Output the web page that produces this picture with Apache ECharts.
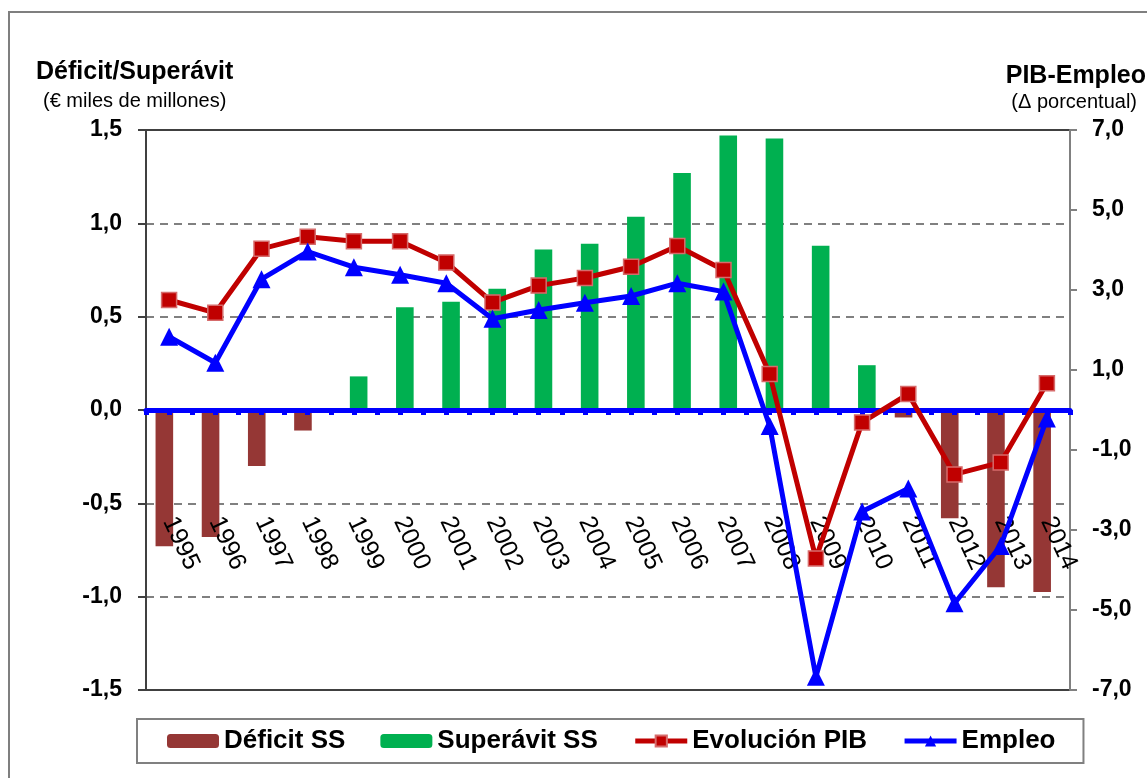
<!DOCTYPE html>
<html>
<head>
<meta charset="utf-8">
<title>Déficit/Superávit SS - PIB - Empleo</title>
<script src="https://cdn.jsdelivr.net/npm/echarts@6/dist/echarts.min.js"></script>
<style>
  html, body { margin: 0; padding: 0; background: #fff; }
  #chart { width: 1147px; height: 778px; }
</style>
</head>
<body>
<div id="chart"></div>
<script>
// datos
var years = ['1995','1996','1997','1998','1999','2000','2001','2002','2003','2004',
             '2005','2006','2007','2008','2009','2010','2011','2012','2013','2014'];
// € miles de millones
var deficitSS = [-0.73,-0.68,-0.30,-0.11,'-','-','-','-','-','-',
                 '-','-','-','-','-','-',-0.04,-0.58,-0.95,-0.975];
var superavitSS = ['-','-','-','-',0.18,0.55,0.58,0.65,0.86,0.89,
                   1.035,1.27,1.47,1.455,0.88,0.24,'-','-','-','-'];
// variacion porcentual
var evolucionPIB = [2.75,2.43,4.03,4.33,4.22,4.22,3.69,2.69,3.11,3.30,
                    3.58,4.10,3.50,0.90,-3.71,-0.31,0.40,-1.61,-1.31,0.67];
var empleo = [1.83,1.18,3.27,3.96,3.57,3.38,3.17,2.28,2.50,2.68,
              2.85,3.17,2.96,-0.40,-6.67,-2.54,-1.96,-4.83,-3.40,-0.21];

var fuente = 'Liberation Sans, Arial, sans-serif';
var coma = function(v){ return v.toFixed(1).replace('.', ','); };

var myChart = echarts.init(document.getElementById('chart'));
var option = {
    animation: false,
    backgroundColor: '#fff',
    graphic: [{
        type: 'rect', silent: true, z: -1,
        shape: { x: 9, y: 12, width: 1300, height: 1000 },
        style: { fill: 'none', stroke: '#7f7f7f', lineWidth: 2 }
    }],
    title: [
        { text: 'Déficit/Superávit', left: 36, top: 60, padding: 0,
          textStyle: { fontFamily: fuente, fontSize: 25, fontWeight: 'bold', color: '#000' } },
        { text: '(€ miles de millones)', left: 43, top: 91, padding: 0,
          textStyle: { fontFamily: fuente, fontSize: 20, fontWeight: 'normal', color: '#000' } },
        { text: 'PIB-Empleo', right: 1, top: 64, padding: 0,
          textStyle: { fontFamily: fuente, fontSize: 25, fontWeight: 'bold', color: '#000' } },
        { text: '(Δ porcentual)', right: 10, top: 92, padding: 0,
          textStyle: { fontFamily: fuente, fontSize: 20, fontWeight: 'normal', color: '#000' } }
    ],
    legend: {
        left: 137, top: 719,
        padding: [9, 28, 9, 30],
        borderColor: '#808080', borderWidth: 2,
        itemWidth: 52, itemHeight: 14, itemGap: 35,
        lineStyle: { width: 5 },
        textStyle: { fontFamily: fuente, fontSize: 26, fontWeight: 'bold', color: '#000' },
        data: ['Déficit SS', 'Superávit SS', 'Evolución PIB', 'Empleo']
    },
    grid: {
        left: 146, right: 77, top: 130, bottom: 88,
        show: true, borderColor: '#404040', borderWidth: 2,
        outerBoundsMode: 'none',
        containLabel: false
    },
    xAxis: [{
        type: 'category',
        data: years,
        z: 3,
        axisLine: { onZero: true, lineStyle: { color: '#0000ff', width: 5 } },
        axisTick: { show: true, alignWithLabel: false, length: 5, lineStyle: { color: '#0000ff', width: 5 } },
        axisLabel: { rotate: -65, margin: -172, fontFamily: fuente, fontSize: 25, color: '#000' }
    }, {
        type: 'category',
        data: years,
        position: 'bottom',
        z: 3,
        axisLine: { show: false, onZero: true },
        axisTick: { show: true, alignWithLabel: true, length: 5, lineStyle: { color: '#0000ff', width: 5 } },
        axisLabel: { show: false }
    }],
    yAxis: [{
        type: 'value',
        min: -1.5, max: 1.5, interval: 0.5,
        axisLine: { show: true, lineStyle: { color: '#404040', width: 2 } },
        axisTick: { show: true, length: 8, lineStyle: { color: '#404040', width: 2 } },
        axisLabel: { margin: 24, fontFamily: fuente, fontSize: 23, fontWeight: 'bold', color: '#000', formatter: coma },
        splitLine: { show: true, showMinLine: false, showMaxLine: false,
                     lineStyle: { color: '#808080', width: 2, type: [8, 6] } }
    }, {
        type: 'value',
        min: -7, max: 7, interval: 2,
        position: 'right',
        axisLine: { show: true, lineStyle: { color: '#808080', width: 2 } },
        axisTick: { show: true, length: 7, lineStyle: { color: '#808080', width: 2 } },
        axisLabel: { margin: 22, fontFamily: fuente, fontSize: 23, fontWeight: 'bold', color: '#000', formatter: coma },
        splitLine: { show: false }
    }],
    series: [
        {
            name: 'Déficit SS',
            type: 'bar',
            yAxisIndex: 0,
            barWidth: 17.6,
            barGap: '-46%',
            itemStyle: { color: '#953735' },
            data: deficitSS
        },
        {
            name: 'Superávit SS',
            type: 'bar',
            yAxisIndex: 0,
            barWidth: 17.6,
            barGap: '-46%',
            itemStyle: { color: '#00b050' },
            data: superavitSS
        },
        {
            name: 'Evolución PIB',
            type: 'line',
            yAxisIndex: 1,
            z: 5,
            symbol: 'rect',
            symbolSize: 15,
            lineStyle: { color: '#c00000', width: 5 },
            itemStyle: { color: '#c00000', borderColor: '#d66b6b', borderWidth: 1.5 },
            data: evolucionPIB
        },
        {
            name: 'Empleo',
            type: 'line',
            yAxisIndex: 1,
            z: 6,
            symbol: 'triangle',
            symbolSize: 18,
            lineStyle: { color: '#0000ff', width: 5 },
            itemStyle: { color: '#0000ff' },
            data: empleo
        }
    ]
};
myChart.setOption(option);
</script>
</body>
</html>
